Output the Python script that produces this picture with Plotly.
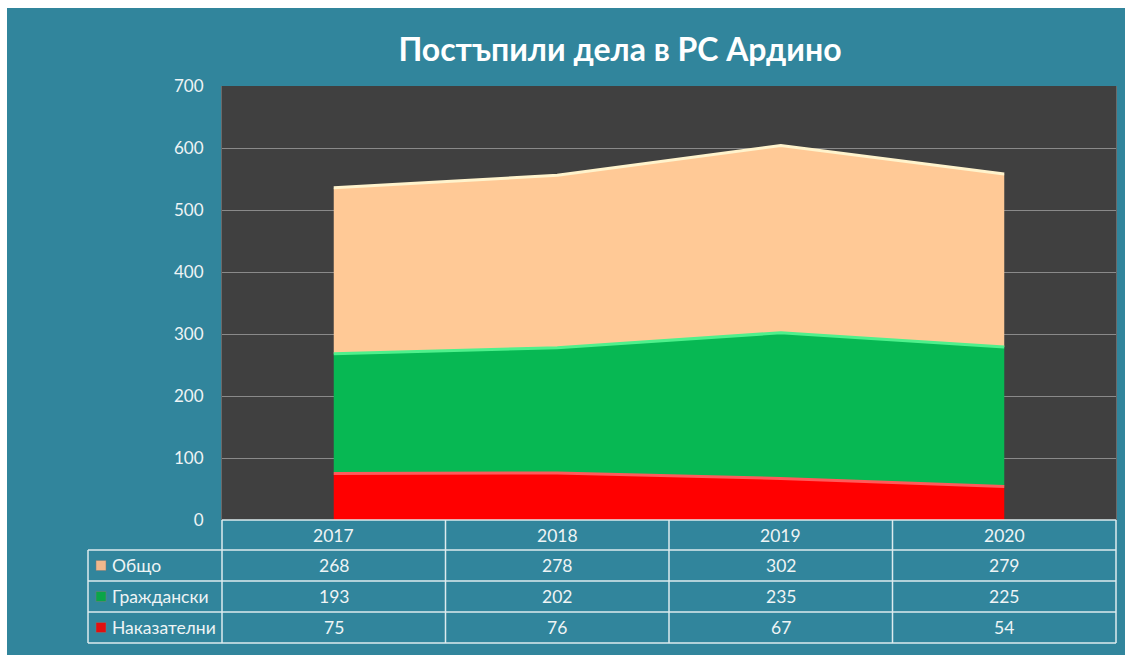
import plotly.graph_objects as go

years = ["2017", "2018", "2019", "2020"]
series_names = ["Наказателни", "Граждански", "Общо"]
nakazatelni = [75, 76, 67, 54]
grazhdanski = [193, 202, 235, 225]
obshto = [268, 278, 302, 279]
y_ticks = [0, 100, 200, 300, 400, 500, 600, 700]

fill_colors = ["#FF0000", "#07B853", "#FFC996"]
edge_colors = ["#FF5A5A", "#4FF08C", "#FFF3CC"]
key_colors = ["#E01010", "#0AA548", "#F0B88C"]
teal = "#31859C"
txt = "#EEF4F5"

W, H = 1125, 655
L, R, T, B = 222, 1116, 86, 520
pw, ph = R - L, B - T

def px(x):
    return (x - L) / pw

def py(y):
    return (B - y) / ph

fig = go.Figure()
values = [nakazatelni, grazhdanski, obshto]
for name, vals, fc, ec in zip(series_names, values, fill_colors, edge_colors):
    fig.add_trace(go.Scatter(
        x=years, y=vals, name=name, stackgroup="one", mode="lines",
        line=dict(color=ec, width=3),
        fillcolor=fc, hoverinfo="x+y+name"))

shapes = []
# white page margins top / left
shapes.append(dict(type="rect", xref="paper", yref="paper", x0=px(0), x1=px(W), y0=py(8), y1=py(0),
                   fillcolor="white", line=dict(width=0), layer="above"))
shapes.append(dict(type="rect", xref="paper", yref="paper", x0=px(0), x1=px(7), y0=py(H), y1=py(0),
                   fillcolor="white", line=dict(width=0), layer="above"))

lc = "#DDEBEE"
row_y = [520, 550, 581, 612, 643]
col_x = [L + pw * i / 4 for i in range(5)]
# horizontal lines
shapes.append(dict(type="line", xref="paper", yref="paper", x0=px(L), x1=px(R), y0=py(520), y1=py(520),
                   line=dict(color=lc, width=1.5)))
for yy in row_y[1:]:
    shapes.append(dict(type="line", xref="paper", yref="paper", x0=px(88), x1=px(R), y0=py(yy), y1=py(yy),
                       line=dict(color=lc, width=1.5)))
# vertical lines
for xx in col_x:
    shapes.append(dict(type="line", xref="paper", yref="paper", x0=px(xx), x1=px(xx), y0=py(520), y1=py(643),
                       line=dict(color=lc, width=1.5)))
shapes.append(dict(type="line", xref="paper", yref="paper", x0=px(88), x1=px(88), y0=py(550), y1=py(643),
                   line=dict(color=lc, width=1.5)))

annotations = []
for i, yr in enumerate(years):
    cx = (col_x[i] + col_x[i + 1]) / 2
    annotations.append(dict(x=px(cx), y=py(535), xref="paper", yref="paper", text=yr, showarrow=False,
                            xanchor="center", yanchor="middle",
                            font=dict(family="Lato", size=17.5, color=txt)))

table_rows = [("Общо", obshto, key_colors[2]), ("Граждански", grazhdanski, key_colors[1]),
              ("Наказателни", nakazatelni, key_colors[0])]
for r, (name, vals, kc) in enumerate(table_rows):
    cy = (row_y[r + 1] + row_y[r + 2]) / 2
    shapes.append(dict(type="rect", xref="paper", yref="paper", x0=px(96), x1=px(106), y0=py(cy + 5), y1=py(cy - 5),
                       fillcolor=kc, line=dict(color="#7A7A7A", width=0.5)))
    annotations.append(dict(x=px(110), y=py(cy), xref="paper", yref="paper", text=name, showarrow=False,
                            xanchor="left", yanchor="middle",
                            font=dict(family="Lato", size=17.5, color=txt)))
    for i, v in enumerate(vals):
        cx = (col_x[i] + col_x[i + 1]) / 2
        annotations.append(dict(x=px(cx), y=py(cy), xref="paper", yref="paper", text=str(v), showarrow=False,
                                xanchor="center", yanchor="middle",
                                font=dict(family="Lato", size=17.5, color=txt)))

fig.update_layout(
    width=W, height=H,
    margin=dict(l=L, r=W - R, t=T, b=H - B, autoexpand=False),
    paper_bgcolor=teal, plot_bgcolor="#404040",
    showlegend=False,
    title=dict(text="<b>Постъпили дела в РС Ардино</b>", xref="container", yref="container",
               x=620 / W, y=1 - 50 / H, xanchor="center", yanchor="middle",
               font=dict(family="Lato", size=32, color="white")),
    xaxis=dict(type="category", range=[-0.5, 3.5], showticklabels=False, showgrid=False,
               zeroline=False, showline=False, fixedrange=True),
    yaxis=dict(range=[0, 700], tickvals=y_ticks, showgrid=True, gridcolor="#8A8A8A", gridwidth=1,
               zeroline=False, showline=True, linecolor="#6A6A6A", mirror=True,
               ticklabelstandoff=14, tickfont=dict(family="Lato", size=17, color=txt), fixedrange=True),
    shapes=shapes, annotations=annotations,
)

fig.write_html("out.html")
